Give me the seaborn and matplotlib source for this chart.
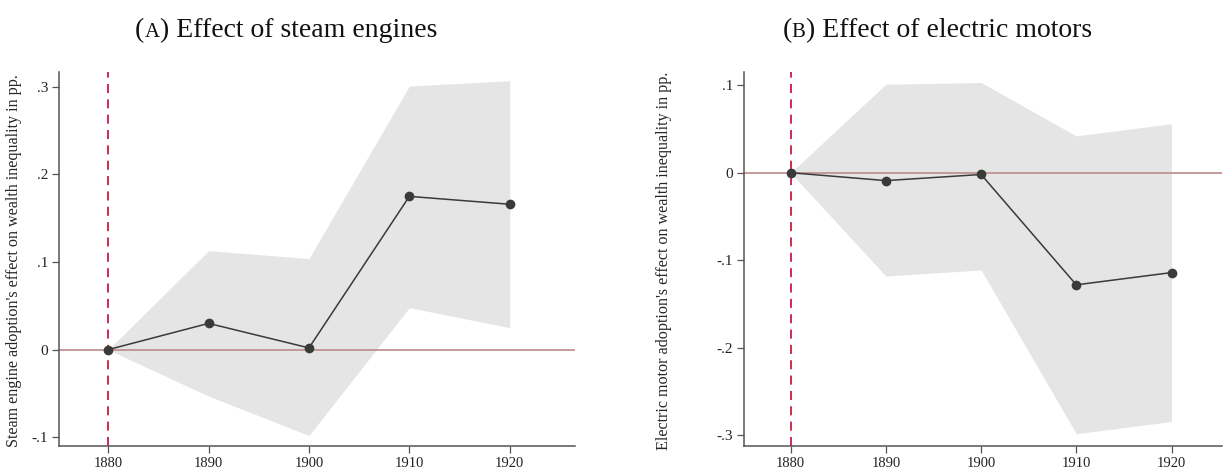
import matplotlib
matplotlib.use("Agg")
import matplotlib.pyplot as plt
import seaborn as sns
import pandas as pd

sns.set_theme(style="white")
plt.rcParams['font.family'] = ['Liberation Serif', 'DejaVu Serif']

years = [1880, 1890, 1900, 1910, 1920]

steam_coef = [0.0, 0.030, 0.002, 0.175, 0.166]
steam_upper = [0.0, 0.113, 0.104, 0.301, 0.307]
steam_lower = [0.0, -0.053, -0.098, 0.048, 0.025]

motor_coef = [0.0, -0.009, -0.002, -0.128, -0.114]
motor_upper = [0.0, 0.101, 0.103, 0.042, 0.056]
motor_lower = [0.0, -0.118, -0.111, -0.298, -0.284]

title_letters = ["A", "B"]
title_texts = ["Effect of steam engines", "Effect of electric motors"]
ylabels = ["Steam engine adoption's effect on wealth inequality in pp.",
           "Electric motor adoption's effect on wealth inequality in pp."]

steam_ticks = [-0.1, 0, 0.1, 0.2, 0.3]
steam_ticklabels = ["-.1", "0", ".1", ".2", ".3"]
motor_ticks = [-0.3, -0.2, -0.1, 0, 0.1]
motor_ticklabels = ["-.3", "-.2", "-.1", "0", ".1"]

W, H = 1224, 471
fig = plt.figure(figsize=(W / 100, H / 100), dpi=100)
axA = fig.add_axes([59 / W, 1 - 446 / H, (575 - 59) / W, (446 - 72) / H])
axB = fig.add_axes([744 / W, 1 - 446 / H, (1222 - 744) / W, (446 - 72) / H])

panels = [
    (axA, steam_coef, steam_upper, steam_lower, steam_ticks, steam_ticklabels,
     (1875.1, 1926.5), (-0.110, 0.317), -0.072),
    (axB, motor_coef, motor_upper, motor_lower, motor_ticks, motor_ticklabels,
     (1875.1, 1925.3), (-0.312, 0.115), -0.151),
]

for i, (ax, coef, up, lo, ticks, tlabels, xlim, ylim, labx) in enumerate(panels):
    df = pd.DataFrame({"year": years, "coef": coef, "upper": up, "lower": lo})
    ax.fill_between(df["year"], df["lower"], df["upper"], color="#e5e5e5", linewidth=0, zorder=1)
    ax.axhline(0, color="#c08a8a", linewidth=1.2, zorder=2)
    ax.axvline(1880, color="#cc1a44", linewidth=1.3, linestyle=(0, (5, 3.5)), zorder=3)
    sns.lineplot(data=df, x="year", y="coef", ax=ax, color="#3a3a3a", linewidth=1.1,
                 marker="o", markersize=7, markeredgewidth=0, zorder=4)
    ax.set_xlim(*xlim)
    ax.set_ylim(*ylim)
    ax.set_xticks(years)
    ax.set_xticklabels([str(y) for y in years], fontsize=10.5)
    ax.set_yticks(ticks)
    ax.set_yticklabels(tlabels, fontsize=11)
    ax.set_xlabel("")
    ax.set_ylabel(ylabels[i], fontsize=11.6)
    ax.yaxis.set_label_coords(labx, 0.495)
    for s in ["top", "right"]:
        ax.spines[s].set_visible(False)
    for s in ["left", "bottom"]:
        ax.spines[s].set_color("#555555")
        ax.spines[s].set_linewidth(1.1)
    ax.tick_params(axis="both", which="both", direction="out", length=5, width=0.9,
                   color="#555555", left=True, bottom=True, labelcolor="#222222", pad=3)

# Titles with small-caps panel letters, centred over each subplot block
renderer = fig.canvas.get_renderer()
centers = [286, 937]
base_y = 1 - 37 / H
for cx, letter, txt in zip(centers, title_letters, title_texts):
    parts = [("(", 20), (letter, 15), (") " + txt, 20)]
    artists = [fig.text(0, base_y, p, fontsize=s, ha="left", va="baseline", color="#111111")
               for p, s in parts]
    widths = [a.get_window_extent(renderer).width for a in artists]
    x = cx - sum(widths) / 2
    for a, w in zip(artists, widths):
        a.set_x(x / W)
        x += w

fig.savefig("out.png", dpi=100, facecolor="white")
